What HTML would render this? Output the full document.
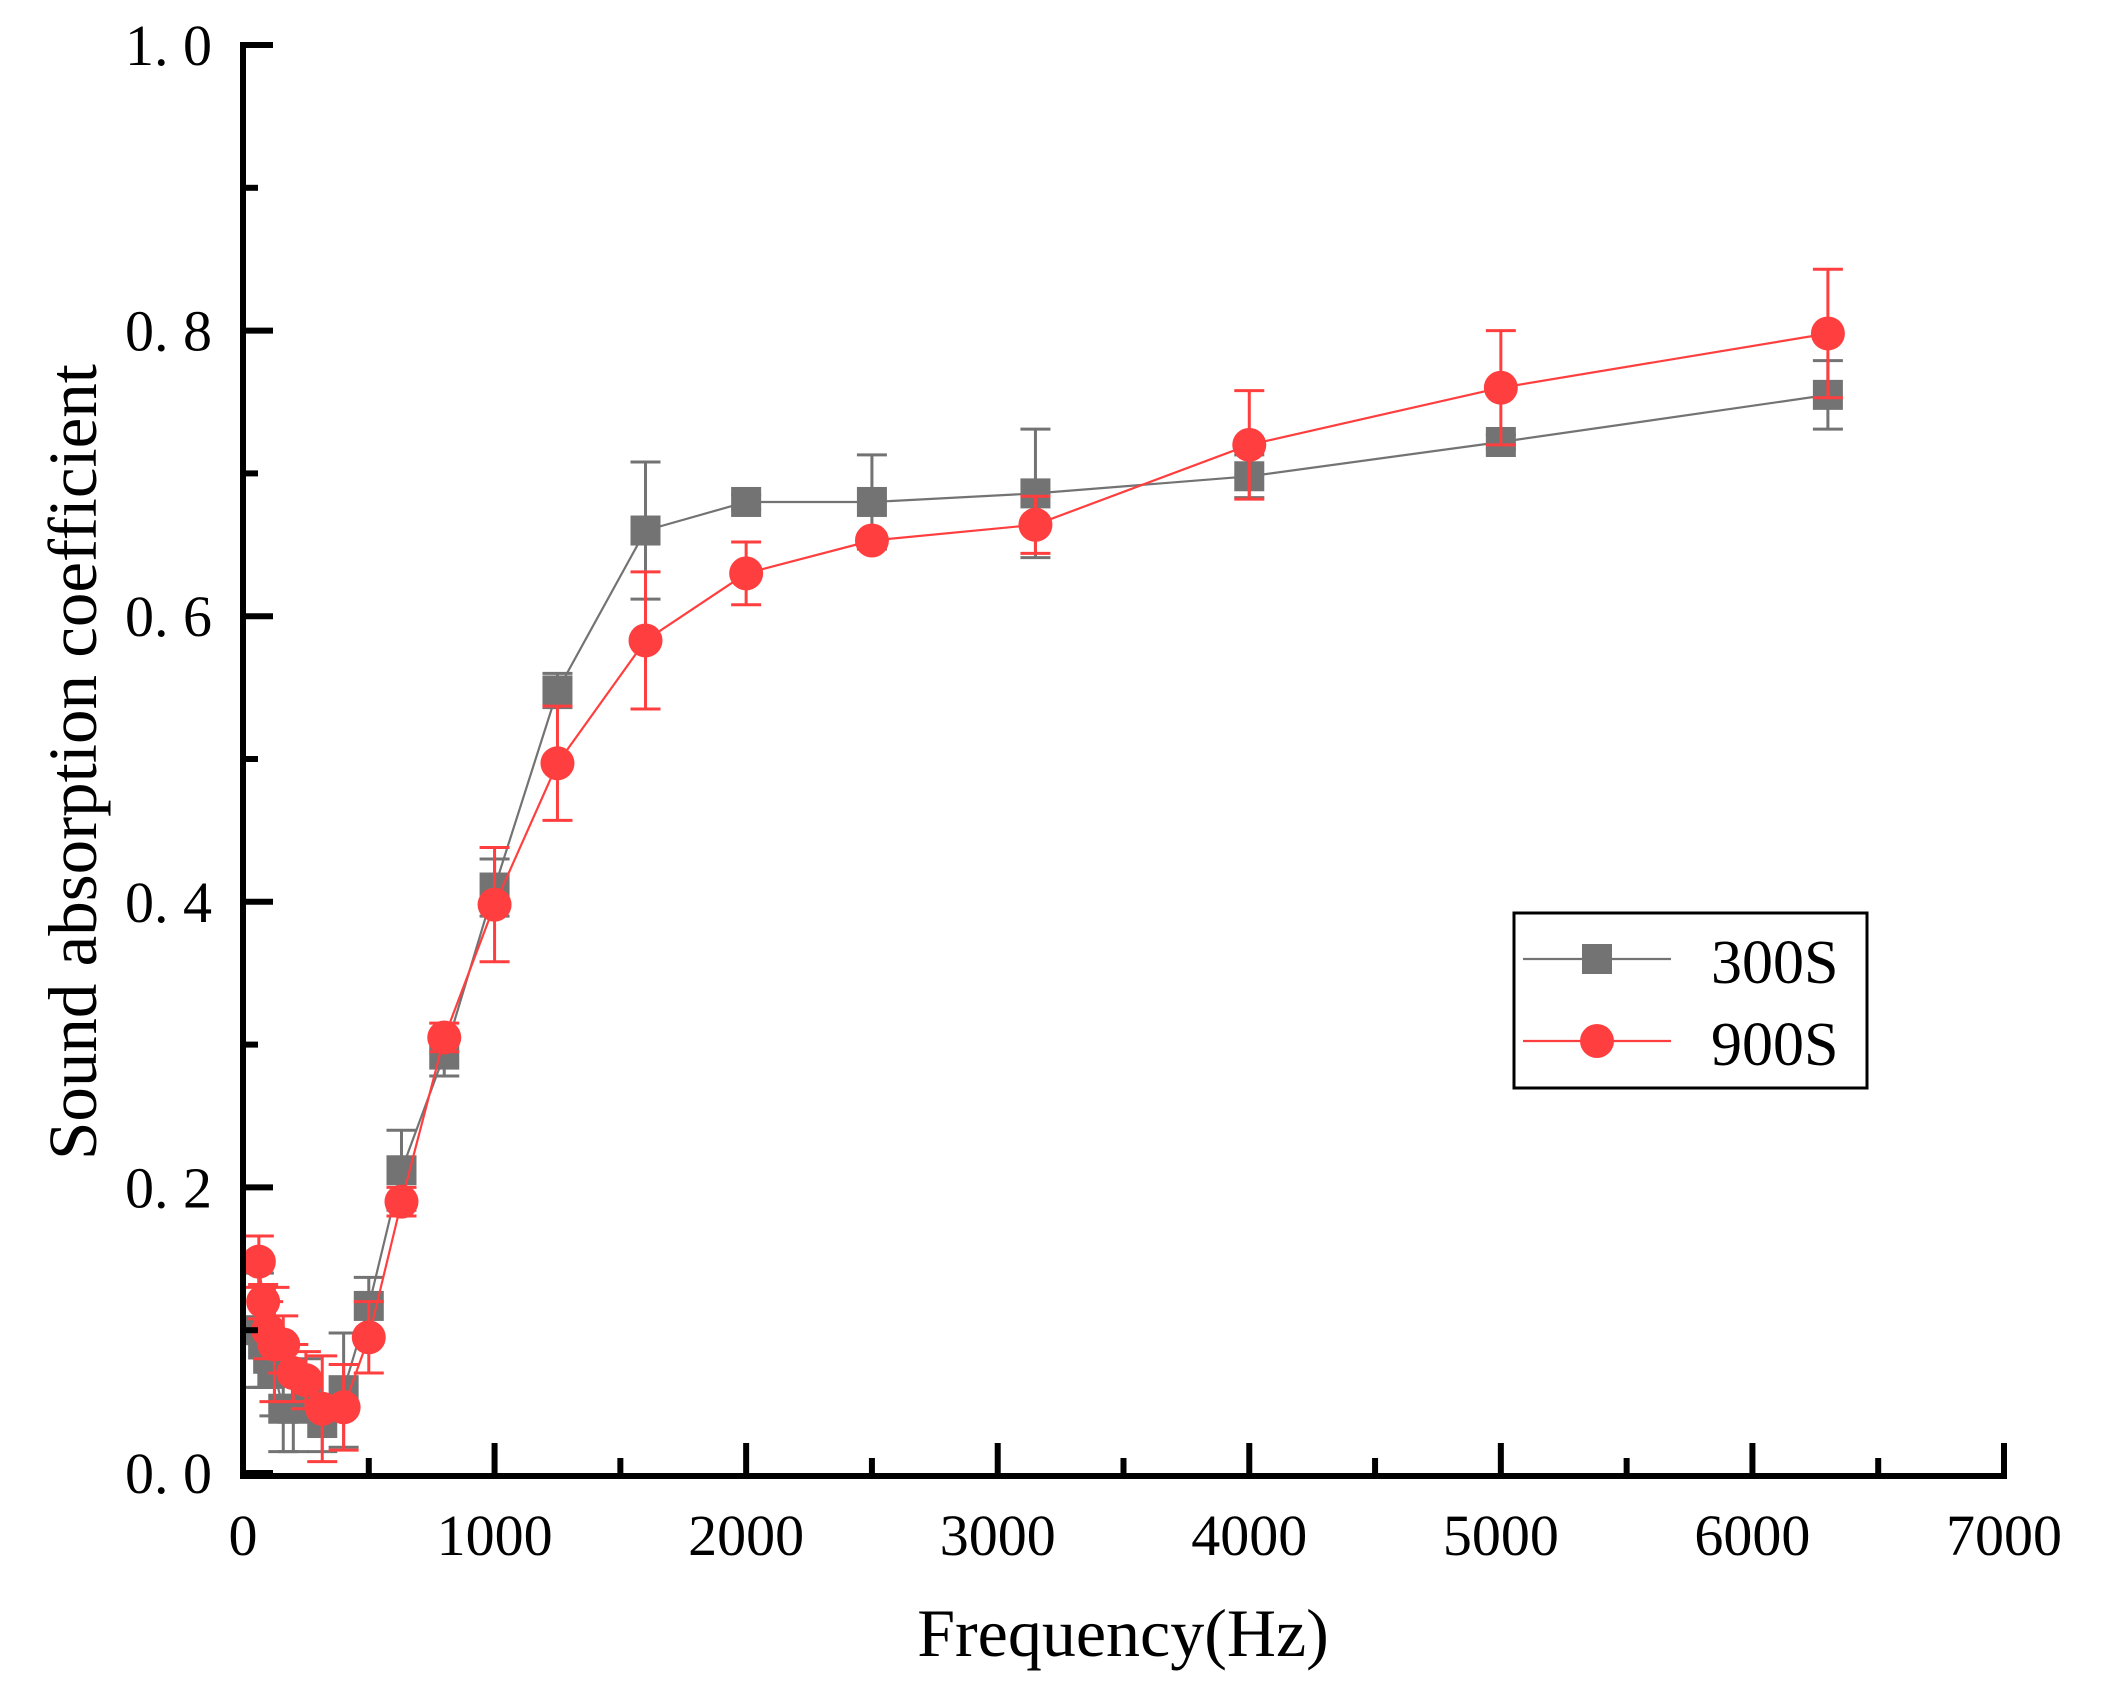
<!DOCTYPE html>
<html><head><meta charset="utf-8"><style>
html,body{margin:0;padding:0;background:#fff}
svg{display:block}
text{font-family:"Liberation Serif",serif;fill:#000;white-space:pre}
</style></head><body>
<svg id="s" width="2101" height="1708" viewBox="0 0 2101 1708" xmlns="http://www.w3.org/2000/svg">
<rect width="2101" height="1708" fill="#fff"/>
<g id="g"></g>
</svg>
<script>
const X=f=>243+f*0.25157, Y=v=>1473-v*1428;
let h='';
const G='#737373',R='#FF3F3F';
const s1=[[63,.10,.04],[80,.09,.03],[100,.08,.02],[125,.07,.03],[160,.045,.03],[200,.045,.03],[250,.06,.02],[315,.035,.02],[400,.058,.04],[500,.117,.02],[630,.212,.028],[800,.293,.015],[1000,.41,.02],[1250,.548,.012],[1600,.66,.048],[2000,.68,.005],[2500,.68,.033],[3150,.686,.045],[4000,.698,.015],[5000,.722,.005],[6300,.755,.024]];
const s2=[[63,.148,.018],[80,.12,.012],[100,.10,.02],[125,.09,.04],[160,.09,.02],[200,.07,.02],[250,.065,.02],[315,.045,.037],[400,.046,.03],[500,.095,.025],[630,.19,.01],[800,.305,.01],[1000,.398,.04],[1250,.497,.04],[1600,.583,.048],[2000,.630,.022],[2500,.653,.005],[3150,.664,.02],[4000,.72,.038],[5000,.76,.04],[6300,.798,.045]];
function series(d,c,shape){
  h+=`<polyline fill="none" stroke="${c}" stroke-width="2.2" points="${d.map(p=>X(p[0]).toFixed(1)+','+Y(p[1]).toFixed(1)).join(' ')}"/>`;
  for(const [f,v,e] of d){
    const x=X(f),y=Y(v),a=Y(v+e),b=Y(v-e);
    h+=`<path d="M${x} ${a}V${b}M${x-15} ${a}H${x+15}M${x-15} ${b}H${x+15}" stroke="${c}" stroke-width="3" fill="none"/>`;
    if(shape=='s')h+=`<rect x="${x-15}" y="${y-15}" width="30" height="30" fill="${c}"/>`;
    else h+=`<circle cx="${x}" cy="${y}" r="17" fill="${c}"/>`;
  }
}
series(s1,G,'s');series(s2,R,'c');
h+=`<path d="M243 42V1476H2007" stroke="#000" stroke-width="6" fill="none"/>`;
for(let i=0;i<=10;i++){const y=Y(i/10);h+=`<path d="M243 ${y}H${i%2==0?273:258}" stroke="#000" stroke-width="6"/>`;}
for(let i=0;i<=14;i++){const x=X(i*500);h+=`<path d="M${x} 1473V${i%2==0?1443:1458}" stroke="#000" stroke-width="6"/>`;}
for(let i=0;i<=5;i++){const v=i*0.2;h+=`<text x="212" y="${Y(v)+20}" font-size="58" text-anchor="end">${v.toFixed(1).replace('.','. ')}</text>`;}
for(let i=0;i<=7;i++){h+=`<text x="${X(i*1000)}" y="1555" font-size="58" text-anchor="middle">${i*1000}</text>`;}
h+=`<text x="1123" y="1656" font-size="68" text-anchor="middle">Frequency(Hz)</text>`;
h+=`<text transform="translate(96 762) rotate(-90)" font-size="69" text-anchor="middle">Sound absorption coefficient</text>`;
h+=`<g transform="translate(-6 -5)">`;
h+=`<rect x="1520" y="918" width="353" height="175" fill="#fff" stroke="#000" stroke-width="3"/>`;
h+=`<path d="M1529 964H1677" stroke="${G}" stroke-width="2.2"/><rect x="1588" y="949" width="30" height="30" fill="${G}"/>`;
h+=`<path d="M1529 1046H1677" stroke="${R}" stroke-width="2.2"/><circle cx="1603" cy="1046" r="17" fill="${R}"/>`;
h+=`<text x="1717" y="988" font-size="62">300S</text><text x="1717" y="1070" font-size="62">900S</text>`;
h+=`</g>`;
document.getElementById('g').innerHTML=h;
</script>
</body></html>
